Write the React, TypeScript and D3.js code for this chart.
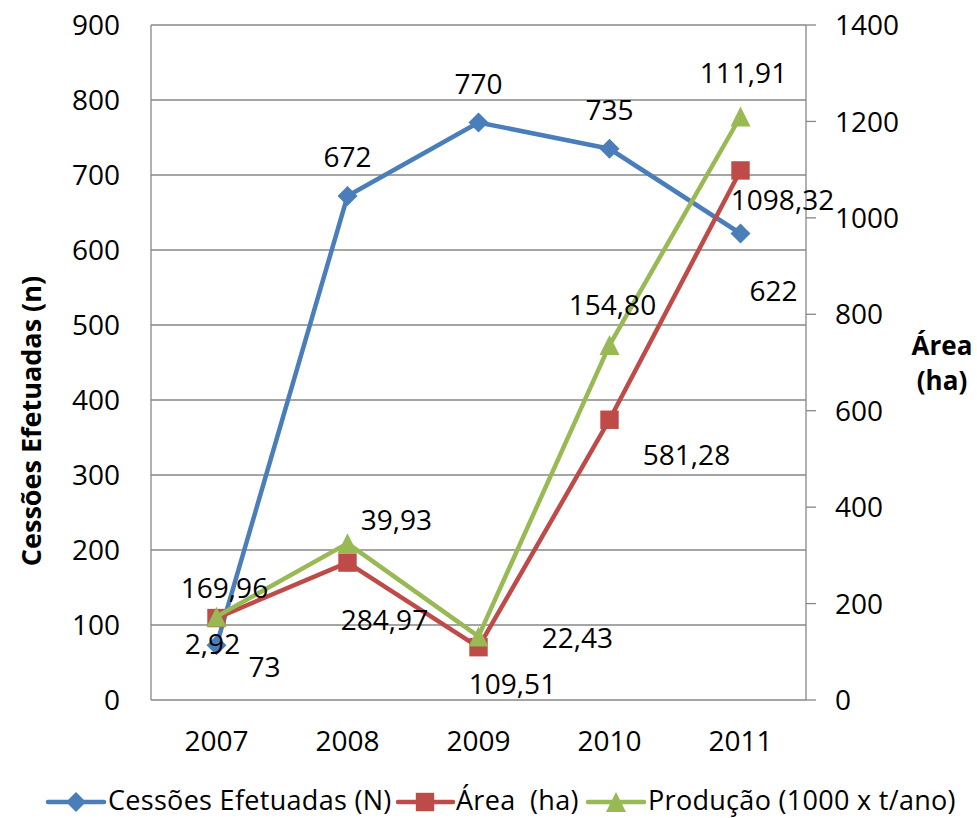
import React from "react";
import * as d3 from "d3";

const years = ["2007", "2008", "2009", "2010", "2011"];
const cessoes = [73, 672, 770, 735, 622];
const area = [169.96, 284.97, 109.51, 581.28, 1098.32];
const producao = [2.92, 39.93, 22.43, 154.8, 111.91];
const leftTicks = [0, 100, 200, 300, 400, 500, 600, 700, 800, 900];
const rightTicks = [0, 200, 400, 600, 800, 1000, 1200, 1400];

// label offsets (px) relative to each point
const cessoesLabelOff: [number, number][] = [[48, 22], [0, -39], [0, -39], [0, -39], [33, 57]];
const areaLabelOff: [number, number][] = [[8, -30], [37, 57], [34, 37], [77, 35], [42, 29]];
const prodLabelOff: [number, number][] = [[-4, 27], [49, -23], [99, 2], [3, -40], [3, -44]];

const W = 977, H = 818;
const M = { left: 151, right: 806, top: 25, bottom: 700 };
const BLUE = "#4a7ebb", RED = "#be4b48", GREEN = "#98b954";
const GRID = "#878787";
const FONT = "'Open Sans', 'Noto Sans', sans-serif";
const FS = 28;

const fmt = (v: number) => v.toFixed(2).replace(".", ",");

function marker(kind: string, x: number, y: number, color: string, s = 10) {
  if (kind === "diamond") {
    return <path d={`M${x},${y - s}L${x + s},${y}L${x},${y + s}L${x - s},${y}Z`} fill={color} />;
  }
  if (kind === "square") {
    const h = s * 0.92;
    return <rect x={x - h} y={y - h} width={2 * h} height={2 * h} fill={color} />;
  }
  return <path d={`M${x},${y - s}L${x + s},${y + s}L${x - s},${y + s}Z`} fill={color} />;
}

export default function App() {
  const x = d3.scaleBand().domain(years).range([M.left, M.right]);
  const xc = (d: string) => (x(d) as number) + x.bandwidth() / 2;
  const yL = d3.scaleLinear().domain([0, 900]).range([M.bottom, M.top]);
  const yR = d3.scaleLinear().domain([0, 1400]).range([M.bottom, M.top]);

  const rows = years.map((yr, i) => ({ yr, area: area[i], producao: producao[i] }));
  const stacked = d3.stack<any>().keys(["area", "producao"])(rows);
  const areaTop = stacked[0].map((s) => s[1]);
  const prodTop = stacked[1].map((s) => s[1]);

  const line = d3.line<[number, number]>().x((d) => d[0]).y((d) => d[1]);
  const bluePts: [number, number][] = years.map((yr, i) => [xc(yr), yL(cessoes[i])]);
  const redPts: [number, number][] = years.map((yr, i) => [xc(yr), yR(areaTop[i])]);
  const greenPts: [number, number][] = years.map((yr, i) => [xc(yr), yR(prodTop[i])]);

  const txt = { fontFamily: FONT, fontSize: FS, fill: "#000" } as const;
  const leg = { fontFamily: FONT, fontSize: 27, fill: "#000", letterSpacing: 0.3 } as const;
  const LY = 802;

  return (
    <svg width={W} height={H} style={{ position: "absolute", left: 0, top: 0, background: "#fff" }}>
      {/* gridlines */}
      {leftTicks.map((t) => (
        <line key={"g" + t} x1={M.left} x2={M.right} y1={yL(t)} y2={yL(t)} stroke={GRID} strokeWidth={1.3} />
      ))}
      <line x1={M.left} x2={M.left} y1={M.top} y2={M.bottom} stroke={GRID} strokeWidth={1.3} />
      <line x1={M.right} x2={M.right} y1={M.top} y2={M.bottom} stroke={GRID} strokeWidth={1.3} />
      {rightTicks.map((t) => (
        <line key={"rt" + t} x1={M.right} x2={M.right + 10} y1={yR(t)} y2={yR(t)} stroke={GRID} strokeWidth={1.3} />
      ))}
      {/* left tick labels */}
      {leftTicks.map((t) => (
        <text key={"lt" + t} x={120} y={yL(t)} dy="0.36em" textAnchor="end" {...txt}>{t}</text>
      ))}
      {rightTicks.map((t) => (
        <text key={"rl" + t} x={835} y={yR(t)} dy="0.36em" textAnchor="start" {...txt}>{t}</text>
      ))}
      {years.map((yr) => (
        <text key={"x" + yr} x={xc(yr)} y={751} textAnchor="middle" {...txt}>{yr}</text>
      ))}
      {/* axis titles */}
      <text transform={`translate(41,421) rotate(-90)`} textAnchor="middle" fontFamily={FONT} fontWeight="bold" fontSize={27}>
        Cessões Efetuadas (n)
      </text>
      <text x={942} y={355} textAnchor="middle" fontFamily={FONT} fontWeight="bold" fontSize={26}>Área</text>
      <text x={942} y={390} textAnchor="middle" fontFamily={FONT} fontWeight="bold" fontSize={26}>(ha)</text>

      {/* series */}
      <path d={line(bluePts) as string} fill="none" stroke={BLUE} strokeWidth={4.5} strokeLinejoin="round" />
      {bluePts.map((p, i) => <g key={"bm" + i}>{marker("diamond", p[0], p[1], BLUE)}</g>)}
      <path d={line(redPts) as string} fill="none" stroke={RED} strokeWidth={4.5} strokeLinejoin="round" />
      {redPts.map((p, i) => <g key={"rm" + i}>{marker("square", p[0], p[1], RED)}</g>)}
      <path d={line(greenPts) as string} fill="none" stroke={GREEN} strokeWidth={4.5} strokeLinejoin="round" />
      {greenPts.map((p, i) => <g key={"gm" + i}>{marker("triangle", p[0], p[1], GREEN)}</g>)}

      {/* data labels */}
      {bluePts.map((p, i) => (
        <text key={"bl" + i} x={p[0] + cessoesLabelOff[i][0]} y={p[1] + cessoesLabelOff[i][1]} dy="0.36em" textAnchor="middle" {...txt}>
          {cessoes[i]}
        </text>
      ))}
      {redPts.map((p, i) => (
        <text key={"rl" + i} x={p[0] + areaLabelOff[i][0]} y={p[1] + areaLabelOff[i][1]} dy="0.36em" textAnchor="middle" {...txt}>
          {fmt(area[i])}
        </text>
      ))}
      {greenPts.map((p, i) => (
        <text key={"gl" + i} x={p[0] + prodLabelOff[i][0]} y={p[1] + prodLabelOff[i][1]} dy="0.36em" textAnchor="middle" {...txt}>
          {fmt(producao[i])}
        </text>
      ))}

      {/* legend */}
      <g>
        <line x1={48} x2={104} y1={LY} y2={LY} stroke={BLUE} strokeWidth={4.5} strokeLinecap="round" />
        {marker("diamond", 76, LY, BLUE)}
        <text x={108} y={810} {...leg}>Cessões Efetuadas (N)</text>
        <line x1={398} x2={453} y1={LY} y2={LY} stroke={RED} strokeWidth={4.5} strokeLinecap="round" />
        {marker("square", 425, LY, RED)}
        <text x={456} y={810} {...leg} style={{ whiteSpace: "pre" }}>{"Área  (ha)"}</text>
        <line x1={588} x2={644} y1={LY} y2={LY} stroke={GREEN} strokeWidth={4.5} strokeLinecap="round" />
        {marker("triangle", 616, LY, GREEN)}
        <text x={648} y={810} {...leg}>Produção (1000 x t/ano)</text>
      </g>
    </svg>
  );
}
